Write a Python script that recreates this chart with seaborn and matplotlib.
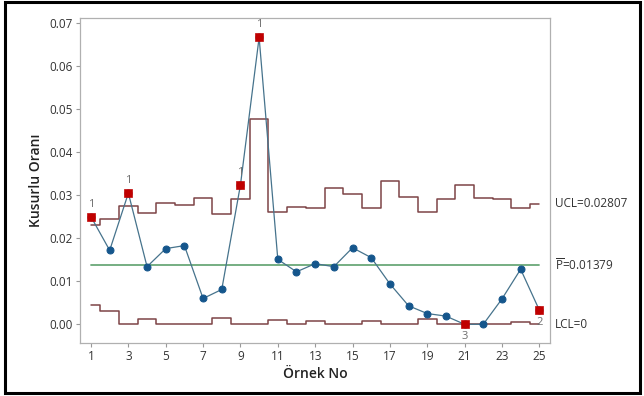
import numpy as np
import pandas as pd
import matplotlib
matplotlib.use('Agg')
import matplotlib.pyplot as plt
import seaborn as sns
from matplotlib.patches import Rectangle

# Minitab P kontrol grafiği verileri
orneks = list(range(1, 26))
oran = [0.0250, 0.0172, 0.0305, 0.0134, 0.0176, 0.0183, 0.0060, 0.0081, 0.0324, 0.0667,
        0.0151, 0.0122, 0.0141, 0.0134, 0.0178, 0.0155, 0.0094, 0.0043, 0.0025, 0.0019,
        0.0000, 0.0000, 0.0059, 0.0128, 0.0033]
ucl = [0.0231, 0.0245, 0.0276, 0.0258, 0.0283, 0.0278, 0.0293, 0.0256, 0.0291, 0.0478,
       0.0260, 0.0273, 0.0270, 0.0318, 0.0303, 0.0270, 0.0333, 0.0295, 0.0260, 0.0291,
       0.0325, 0.0293, 0.0291, 0.0270, 0.0280]
lcl = [0.0045, 0.0031, 0.0000, 0.0013, 0.0000, 0.0000, 0.0000, 0.0015, 0.0000, 0.0000,
       0.0011, 0.0000, 0.0007, 0.0000, 0.0000, 0.0007, 0.0000, 0.0000, 0.0013, 0.0000,
       0.0000, 0.0000, 0.0000, 0.0005, 0.0000]
p_bar = 0.01379
ucl_son = 0.02807

# kural ihlali olan noktalar ve test numaraları
ihlal_no = [1, 3, 9, 10, 21, 25]
ihlal_test = ['1', '1', '1', '1', '3', '2']

df = pd.DataFrame({'no': orneks, 'oran': oran, 'ucl': ucl, 'lcl': lcl})
ihlal_df = df[df['no'].isin(ihlal_no)]

sns.set_style('white')
plt.rcParams['font.family'] = ['Open Sans', 'DejaVu Sans']
plt.rcParams['mathtext.fontset'] = 'custom'
plt.rcParams['mathtext.rm'] = 'Open Sans'

fig = plt.figure(figsize=(6.44, 3.96), dpi=100)
ax = fig.add_axes([0.1242, 0.1346, 0.7298, 0.82])

kirmizi_kahve = '#7d4446'
sns.lineplot(data=df, x='no', y='ucl', ax=ax, color=kirmizi_kahve, lw=1.1, drawstyle='steps-mid')
sns.lineplot(data=df, x='no', y='lcl', ax=ax, color=kirmizi_kahve, lw=1.1, drawstyle='steps-mid')
ax.plot([1, 25], [p_bar, p_bar], color='#6aa878', lw=1.3)

sns.lineplot(data=df, x='no', y='oran', ax=ax, color='#46738c', lw=0.9,
             marker='o', markersize=5, markerfacecolor='#15568c', markeredgecolor='#15568c')
sns.scatterplot(data=ihlal_df, x='no', y='oran', ax=ax, marker='s', s=34,
                color='#c00000', edgecolor='#c00000', zorder=5)

for n, t in zip(ihlal_no, ihlal_test):
    y = df.loc[df['no'] == n, 'oran'].values[0]
    dy = -9 if t in ('3', '2') else 9
    ax.annotate(t, (n, y), xytext=(0, dy), textcoords='offset points',
                ha='center', va='center', fontsize=8, color='#6e6e6e')

ax.set_xlim(0.41, 25.57)
ax.set_ylim(-0.00428, 0.07123)
ax.set_xticks(range(1, 26, 2))
ax.set_yticks(np.arange(0, 0.071, 0.01))
ax.yaxis.set_major_formatter(matplotlib.ticker.FormatStrFormatter('%.2f'))
ax.tick_params(axis='both', direction='out', length=3, width=0.8, color='#999999',
               labelsize=8.5, labelcolor='#333333', pad=2, left=True, bottom=True)
for s in ax.spines.values():
    s.set_color('#b0b0b0')
    s.set_linewidth(0.9)

ax.set_xlabel('Örnek No', fontsize=10, fontweight='semibold', color='#222222', labelpad=3)
ax.set_ylabel('Kusurlu Oranı', fontsize=10, fontweight='semibold', color='#222222', labelpad=5)

ax.text(25.85, ucl_son, 'UCL=0.02807', fontsize=8.5, color='#333333', va='center', clip_on=False)
ax.text(25.85, p_bar, r'$\overline{\mathrm{P}}$=0.01379', fontsize=8.5, color='#333333',
        va='center', clip_on=False)
ax.text(25.85, 0.0, 'LCL=0', fontsize=8.5, color='#333333', va='center', clip_on=False)

fig.patches.append(Rectangle((0.007, 0.008), 0.987, 0.986, transform=fig.transFigure,
                             fill=False, edgecolor='black', lw=2.2))

plt.savefig('out.png', dpi=100)
